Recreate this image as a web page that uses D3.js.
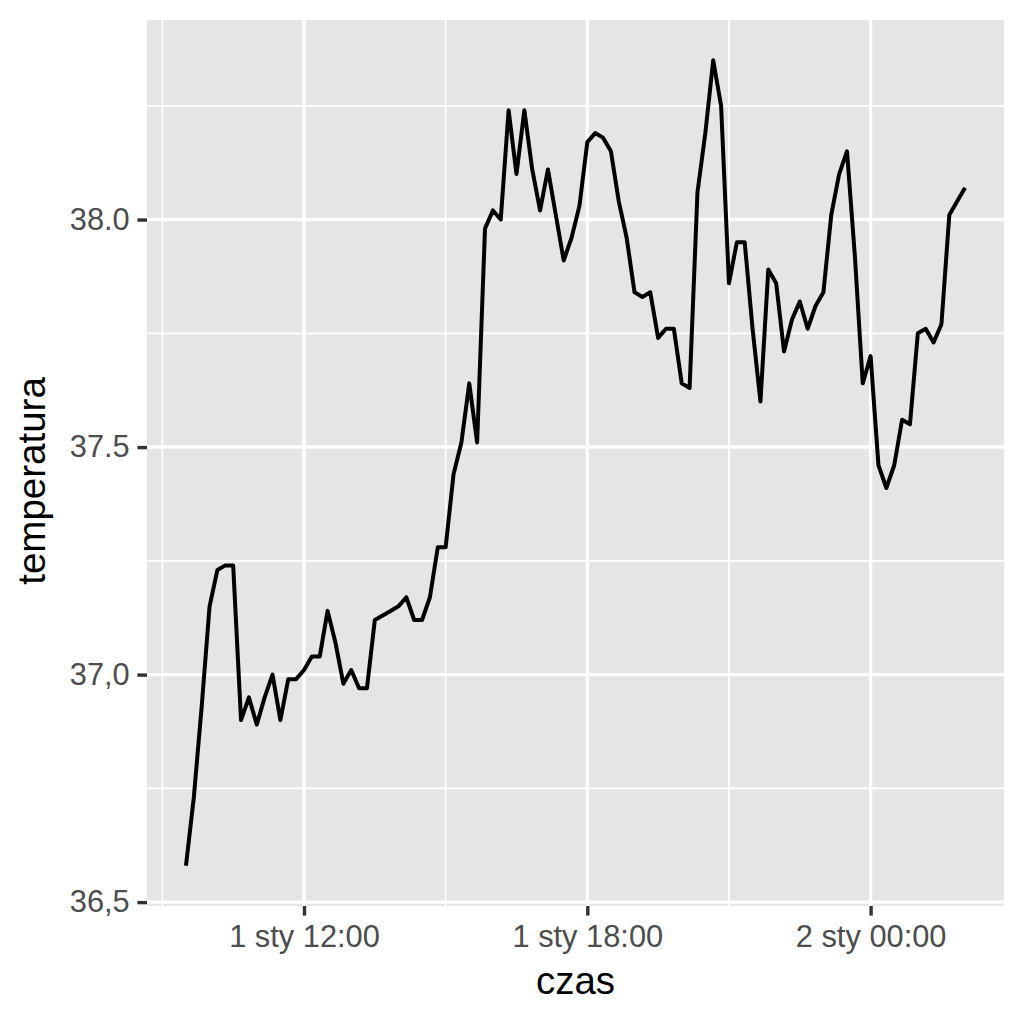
<!DOCTYPE html>
<html>
<head>
<meta charset="utf-8">
<script src="https://cdn.jsdelivr.net/npm/d3@7"></script>
<style>
  body { margin: 0; background: #fff; }
  svg { display: block; font-family: "Liberation Sans", Arial, Helvetica, sans-serif; }
</style>
</head>
<body>
<div id="container"><svg></svg></div>
<script>
// czas pomiaru (HHMM), 10-minutowe odstępy, od 9:30 do 2:00 następnego dnia
const times = [
  930, 940, 950, 1000, 1010, 1020, 1030, 1040, 1050, 1100,
  1110, 1120, 1130, 1140, 1150, 1200, 1210, 1220, 1230, 1240,
  1250, 1300, 1310, 1320, 1330, 1340, 1350, 1400, 1410, 1420,
  1430, 1440, 1450, 1500, 1510, 1520, 1530, 1540, 1550, 1600,
  1610, 1620, 1630, 1640, 1650, 1700, 1710, 1720, 1730, 1740,
  1750, 1800, 1810, 1820, 1830, 1840, 1850, 1900, 1910, 1920,
  1930, 1940, 1950, 2000, 2010, 2020, 2030, 2040, 2050, 2100,
  2110, 2120, 2130, 2140, 2150, 2200, 2210, 2220, 2230, 2240,
  2250, 2300, 2310, 2320, 2330, 2340, 2350, 0, 10, 20,
  30, 40, 50, 100, 110, 120, 130, 140, 150, 200
];

// temperatura
const temps = [
  36.58, 36.73, 36.93, 37.15, 37.23, 37.24, 37.24, 36.90, 36.95, 36.89,
  36.95, 37.00, 36.90, 36.99, 36.99, 37.01, 37.04, 37.04, 37.14, 37.07,
  36.98, 37.01, 36.97, 36.97, 37.12, 37.13, 37.14, 37.15, 37.17, 37.12,
  37.12, 37.17, 37.28, 37.28, 37.44, 37.51, 37.64, 37.51, 37.98, 38.02,
  38.00, 38.24, 38.10, 38.24, 38.11, 38.02, 38.11, 38.01, 37.91, 37.96,
  38.03, 38.17, 38.19, 38.18, 38.15, 38.04, 37.96, 37.84, 37.83, 37.84,
  37.74, 37.76, 37.76, 37.64, 37.63, 38.06, 38.19, 38.35, 38.25, 37.86,
  37.95, 37.95, 37.76, 37.60, 37.89, 37.86, 37.71, 37.78, 37.82, 37.76,
  37.81, 37.84, 38.01, 38.10, 38.15, 37.92, 37.64, 37.70, 37.46, 37.41,
  37.46, 37.56, 37.55, 37.75, 37.76, 37.73, 37.77, 38.01, 38.04, 38.07
];

const yBreaks = [36.5, 37.0, 37.5, 38.0];
const yTickLabels = ["36,5", "37,0", "37.5", "38.0"];
const yMinor = [36.75, 37.25, 37.75, 38.25];

const xBreaks = ["2000-01-01T12:00Z", "2000-01-01T18:00Z", "2000-01-02T00:00Z"].map(d => new Date(d));
const xMinor = ["2000-01-01T09:00Z", "2000-01-01T15:00Z", "2000-01-01T21:00Z"].map(d => new Date(d));

const width = 1024, height = 1024;
const panel = { left: 147, right: 1004, top: 20, bottom: 906 };

// polskie skróty miesięcy
const pl = d3.timeFormatLocale({
  dateTime: "%A, %e %B %Y, %X", date: "%d.%m.%Y", time: "%H:%M:%S",
  periods: ["AM", "PM"],
  days: ["niedziela", "poniedziałek", "wtorek", "środa", "czwartek", "piątek", "sobota"],
  shortDays: ["niedz.", "pon.", "wt.", "śr.", "czw.", "pt.", "sob."],
  months: ["styczeń", "luty", "marzec", "kwiecień", "maj", "czerwiec", "lipiec", "sierpień", "wrzesień", "październik", "listopad", "grudzień"],
  shortMonths: ["sty", "lut", "mar", "kwi", "maj", "cze", "lip", "sie", "wrz", "paź", "lis", "gru"]
});
const fmt = pl.utcFormat("%-d %b %H:%M");

// zamiana HHMM na datę, z przejściem przez północ
let day = 1, prev = -1;
const data = times.map((t, i) => {
  if (t < prev) day += 1;
  prev = t;
  return { time: new Date(Date.UTC(2000, 0, day, Math.floor(t / 100), t % 100)), temp: temps[i] };
});

const svg = d3.select("#container").select("svg")
  .attr("width", width)
  .attr("height", height);

svg.append("rect").attr("width", width).attr("height", height).attr("fill", "#fff");

// skale z 5% marginesem jak w ggplot
const tExt = d3.extent(data, d => d.time);
const tPad = (tExt[1] - tExt[0]) * 0.05;
const x = d3.scaleUtc()
  .domain([new Date(+tExt[0] - tPad), new Date(+tExt[1] + tPad)])
  .range([panel.left, panel.right]);

const yExt = d3.extent(data, d => d.temp);
const yPad = (yExt[1] - yExt[0]) * 0.05;
const y = d3.scaleLinear()
  .domain([yExt[0] - yPad, yExt[1] + yPad])
  .range([panel.bottom, panel.top]);

// tło panelu
svg.append("rect")
  .attr("x", panel.left).attr("y", panel.top)
  .attr("width", panel.right - panel.left)
  .attr("height", panel.bottom - panel.top)
  .attr("fill", "#e5e5e5");

// siatka
const grid = svg.append("g").attr("stroke", "#fff").attr("fill", "none");
grid.selectAll(".ymin").data(yMinor).join("line")
  .attr("x1", panel.left).attr("x2", panel.right)
  .attr("y1", d => y(d)).attr("y2", d => y(d))
  .attr("stroke-width", 1.7);
grid.selectAll(".xmin").data(xMinor).join("line")
  .attr("y1", panel.top).attr("y2", panel.bottom)
  .attr("x1", d => x(d)).attr("x2", d => x(d))
  .attr("stroke-width", 1.7);
grid.selectAll(".ymaj").data(yBreaks).join("line")
  .attr("x1", panel.left).attr("x2", panel.right)
  .attr("y1", d => y(d)).attr("y2", d => y(d))
  .attr("stroke-width", 3.4);
grid.selectAll(".xmaj").data(xBreaks).join("line")
  .attr("y1", panel.top).attr("y2", panel.bottom)
  .attr("x1", d => x(d)).attr("x2", d => x(d))
  .attr("stroke-width", 3.4);

// linia
const line = d3.line().x(d => x(d.time)).y(d => y(d.temp));
svg.append("path")
  .datum(data)
  .attr("d", line)
  .attr("fill", "none")
  .attr("stroke", "#000")
  .attr("stroke-width", 4)
  .attr("stroke-linejoin", "round");

// osie
const xAxis = svg.append("g")
  .attr("transform", `translate(0,${panel.bottom})`)
  .call(d3.axisBottom(x).tickValues(xBreaks).tickFormat(fmt).tickSize(9.6).tickPadding(10));

const yAxis = svg.append("g")
  .attr("transform", `translate(${panel.left},0)`)
  .call(d3.axisLeft(y).tickValues(yBreaks).tickFormat((d, i) => yTickLabels[i]).tickSize(9.6).tickPadding(7.7));

[xAxis, yAxis].forEach(a => {
  a.select(".domain").remove();
  a.selectAll(".tick line").attr("stroke", "#333").attr("stroke-width", 3.4);
  a.selectAll(".tick text")
    .attr("fill", "#4d4d4d")
    .style("font-size", "30.8px")
    .style("font-family", "'Liberation Sans', Arial, Helvetica, sans-serif");
});

// tytuły osi
svg.append("text")
  .attr("x", (panel.left + panel.right) / 2)
  .attr("y", 994)
  .attr("text-anchor", "middle")
  .attr("fill", "#000")
  .style("font-size", "38.5px")
  .text("czas");

svg.append("text")
  .attr("transform", "translate(45,481) rotate(-90)")
  .attr("text-anchor", "middle")
  .attr("fill", "#000")
  .style("font-size", "38.5px")
  .text("temperatura");
</script>
</body>
</html>
